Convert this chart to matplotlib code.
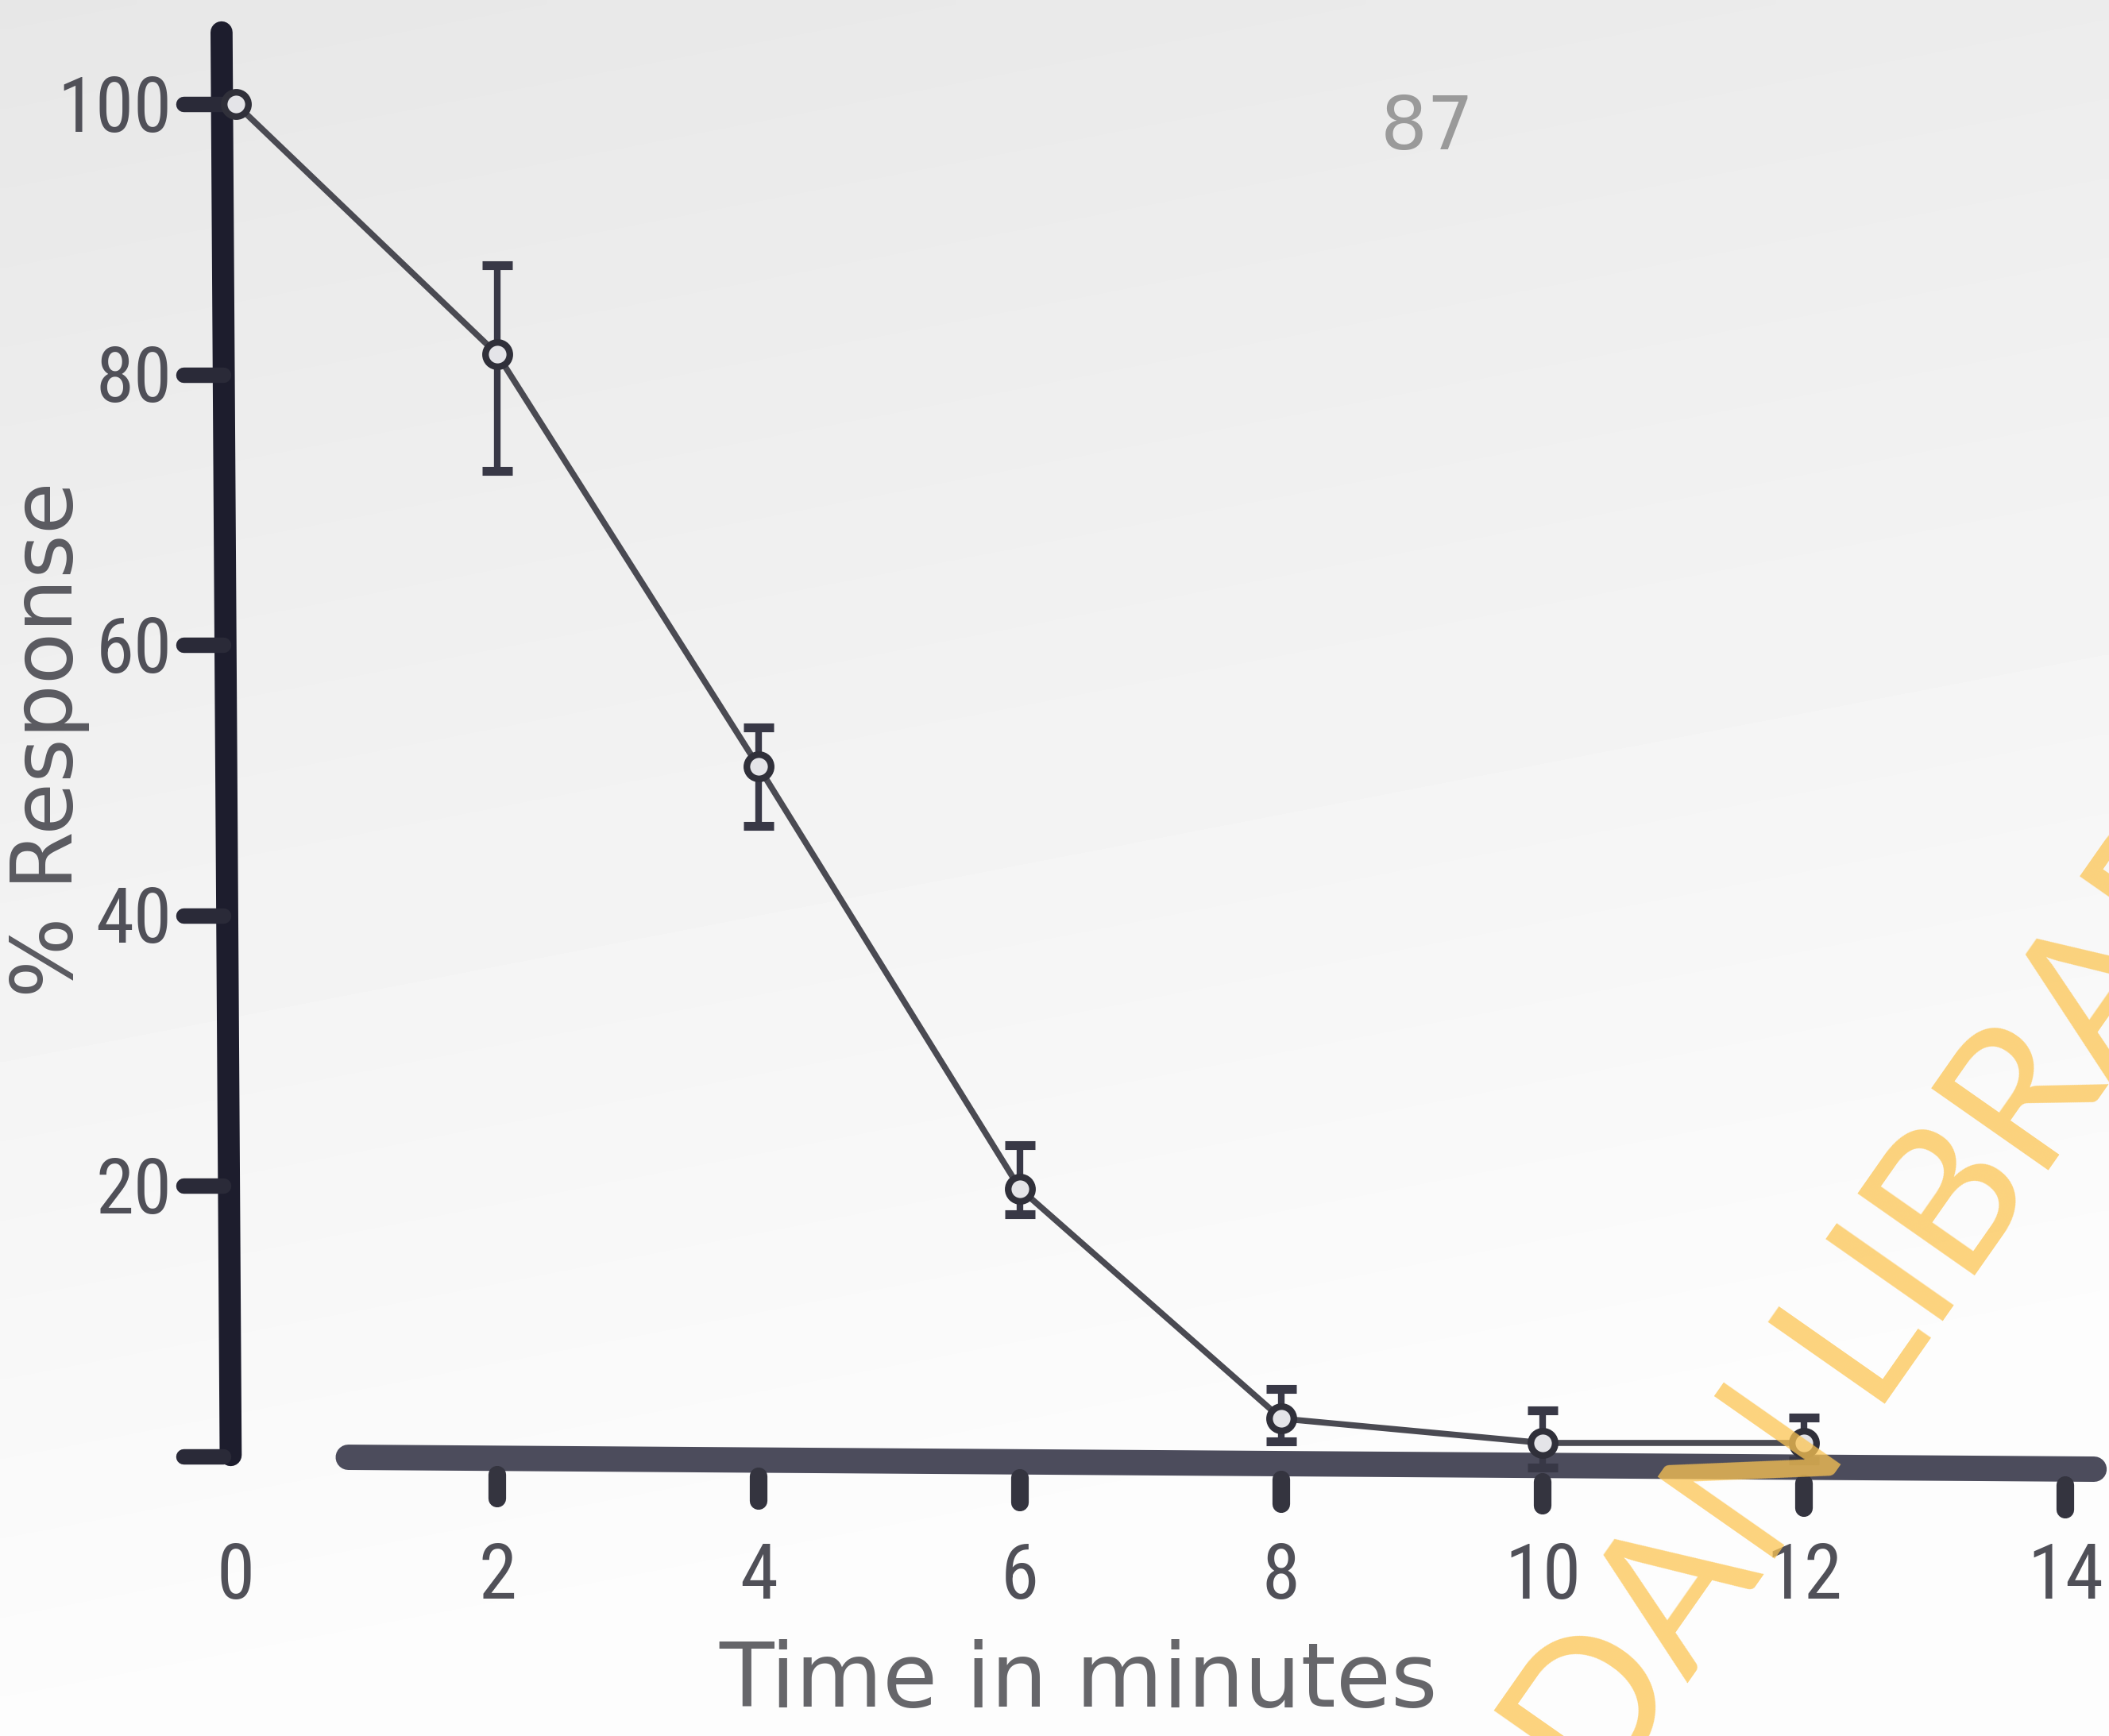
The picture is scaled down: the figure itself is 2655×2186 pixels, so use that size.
import numpy as np
import matplotlib
matplotlib.use("Agg")
import matplotlib.pyplot as plt
from matplotlib import font_manager as fm

# ---------------- data ----------------
time_min = [0, 2, 4, 6, 8, 10, 12]
response = [100, 81.5, 51.0, 19.8, 2.8, 1.0, 1.0]
bar_top = [100, 88.1, 53.9, 23.0, 5.0, 3.4, 2.9]
bar_bottom = [100, 72.9, 46.6, 17.9, 1.1, -0.8, -0.3]
x_ticks = [0, 2, 4, 6, 8, 10, 12, 14]
x_tick_labels = ["0", "2", "4", "6", "8", "10", "12", "14"]
y_ticks = [0, 20, 40, 60, 80, 100]
y_tick_labels = ["", "20", "40", "60", "80", "100"]
x_label = "Time in minutes"
y_label = "% Response"
page_number = "87"

W, H = 2655, 2186

# pick a narrow face for the digits if one is installed
tick_kw = dict(family="DejaVu Sans", fontsize=58)
fonts = fm.fontManager.ttflist
names = {f.name for f in fonts}
if "Roboto Condensed" in names:
    tick_kw = dict(family="Roboto Condensed", fontsize=70)
elif "Liberation Sans Narrow" in names:
    tick_kw = dict(family="Liberation Sans Narrow", fontsize=74)
elif "Open Sans Condensed" in names:
    tick_kw = dict(family="Open Sans Condensed", fontsize=70)
elif any(f.name == "DejaVu Sans" and f.stretch == "condensed" for f in fonts):
    tick_kw = dict(family="DejaVu Sans", fontstretch="condensed", fontsize=66)

wm_family = "Lato" if "Lato" in names else "DejaVu Sans"

fig = plt.figure(figsize=(W / 100, H / 100), dpi=100)

# scanned-paper background
bg = fig.add_axes([0, 0, 1, 1])
rows = np.linspace(0, 1, 200)[:, None]
cols = np.linspace(0, 1, 200)[None, :]
grad = np.clip(0.905 + 0.085 * rows + 0.02 * cols, 0, 0.99)
bg.imshow(grad, cmap="gray", vmin=0, vmax=1, aspect="auto",
          extent=[0, 1, 0, 1], interpolation="bilinear")
bg.axis("off")

# data axes covering the whole figure
ax = fig.add_axes([0, 0, 1, 1])
ax.patch.set_alpha(0)
ax.set_xlim(-297 / 164.5, (W - 297) / 164.5)
ax.set_ylim((1834 - H) / 17.03, 1834 / 17.03)
ax.axis("off")

# hand-drawn y axis
ax.plot([-0.04, -0.11], [0.1, 105.3], color="#1d1d2d", lw=20,
        solid_capstyle="round", zorder=3)
for yv in y_ticks:
    ax.plot([-0.40, -0.10], [yv, yv], color="#2a2a38", lw=14,
            solid_capstyle="round", zorder=3)

# hand-drawn x axis (slightly tilted)
xa = [0.86, 14.22]
ya = [-0.06, -0.94]
ax.plot(xa, ya, color="#4c4c5c", lw=23, solid_capstyle="round", zorder=3)
for xv in x_ticks[1:]:
    yl = np.interp(xv, xa, ya)
    ax.plot([xv, xv], [yl - 1.2, yl - 3.0], color="#34343f", lw=16,
            solid_capstyle="round", zorder=3)

# error bars
t = np.array(time_min[1:])
r = np.array(response[1:])
lo = r - np.array(bar_bottom[1:])
hi = np.array(bar_top[1:]) - r
ax.errorbar(t, r, yerr=[lo, hi], fmt="none", ecolor="#383846",
            elinewidth=6, capsize=14, capthick=8, zorder=4)

# data line with open circles
ax.plot(time_min, response, color="#4a4a52", lw=5.5, marker="o", ms=22,
        mfc="#e4e4e8", mec="#30303a", mew=6, zorder=5)

for yv, lab in zip(y_ticks, y_tick_labels):
    if lab:
        ax.text(-0.49, yv - 0.5, lab, ha="right", va="center",
                color="#505058", zorder=6, **tick_kw)
for xv, lab in zip(x_ticks, x_tick_labels):
    ax.text(xv, -9.0, lab, ha="center", va="center",
            color="#505058", zorder=6, **tick_kw)

ax.text(6.45, -16.7, x_label, ha="center", va="center", fontsize=81,
        family="DejaVu Sans", color="#66666a", zorder=6)
ax.text(-1.43, 53.0, y_label, ha="center", va="center", fontsize=77,
        rotation=90, family="DejaVu Sans", color="#5a5a60", zorder=6)
ax.text(9.12, 98.2, page_number, ha="center", va="center", fontsize=67,
        family="DejaVu Sans", color="#9a9a9a", zorder=6)

# library watermark
wm = dict(rotation=55, rotation_mode="anchor", va="baseline", fontsize=180,
          family=wm_family, color="#fcc553", alpha=0.75, zorder=10)
fig.text(2322 / W, 1 - 1806 / H, "IBADAN", ha="right", **wm)
fig.text(2350 / W, 1 - 1768 / H, "LIBRARY", ha="left", **wm)

fig.savefig("out.png", dpi=100)
